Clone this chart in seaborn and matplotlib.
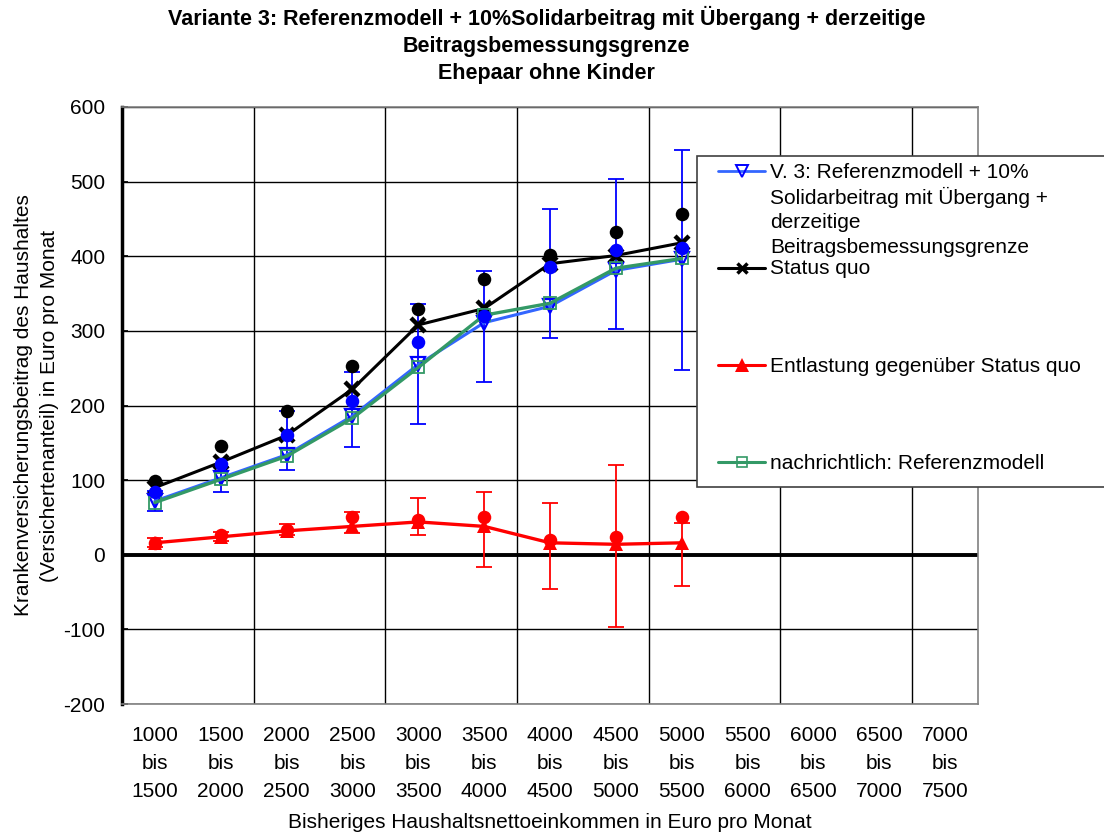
import numpy as np
import pandas as pd
import matplotlib
matplotlib.use("Agg")
import matplotlib.pyplot as plt
import seaborn as sns
from matplotlib.lines import Line2D
from matplotlib.patches import Rectangle

# Einkommensklassen (Kategorien der x-Achse)
klassen_von = [1000, 1500, 2000, 2500, 3000, 3500, 4000, 4500, 5000, 5500, 6000, 6500, 7000]
klassen_bis = [1500, 2000, 2500, 3000, 3500, 4000, 4500, 5000, 5500, 6000, 6500, 7000, 7500]

# Werte (nur fuer die ersten 9 Klassen vorhanden)
variante3 = [72, 103, 134, 186, 255, 311, 333, 381, 396]
status_quo = [90, 124, 160, 222, 308, 330, 390, 401, 418]
entlastung = [16, 24, 32, 38, 44, 38, 16, 14, 16]
referenzmodell = [70, 101, 132, 183, 251, 321, 337, 384, 397]

# Einzelpunkte ohne Linie
punkte_schwarz = [99, 146, 193, 253, 329, 369, 402, 432, 456]
punkte_blau = [84, 121, 160, 206, 285, 320, 386, 409, 411]
punkte_rot = [16, 26, 33, 51, 46, 50, 20, 24, 51]

# Fehlerbalken (untere / obere Grenze)
blau_unten = [58, 84, 113, 145, 175, 232, 291, 303, 247]
blau_oben = [86, 118, 192, 245, 336, 380, 463, 504, 542]
rot_unten = [10, 18, 27, 29, 27, -16, -46, -97, -42]
rot_oben = [22, 30, 41, 57, 76, 84, 69, 120, 42]

sns.set_theme(style="white")
plt.rcParams['font.family'] = ['Liberation Sans', 'DejaVu Sans']
plt.rcParams['text.color'] = 'black'
plt.rcParams['axes.labelcolor'] = 'black'
plt.rcParams['xtick.color'] = 'black'
plt.rcParams['ytick.color'] = 'black'
plt.rcParams['axes.unicode_minus'] = False

fig = plt.figure(figsize=(11.04, 8.35), dpi=100)
ax = fig.add_axes([122 / 1104, 1 - 704 / 835, (978 - 122) / 1104, (704 - 107) / 835])

n = len(variante3)
x = np.arange(n)

blau_lo = np.array(blau_unten)
blau_hi = np.array(blau_oben)
rot_lo = np.array(rot_unten)
rot_hi = np.array(rot_oben)

# Gitter
for yv in range(-200, 601, 100):
    ax.axhline(yv, color='black', lw=1.0, zorder=0)
for xv in np.arange(-0.5, len(klassen_von), 2):
    ax.axvline(xv, color='black', lw=1.0, zorder=0)
ax.axhline(0, color='black', lw=2.8, zorder=1)

# Fehlerbalken
ax.errorbar(x, (blau_lo + blau_hi) / 2, yerr=(blau_hi - blau_lo) / 2, fmt='none',
            ecolor='#0000FF', elinewidth=1.3, capsize=5.5, capthick=1.3, zorder=3)
ax.errorbar(x, (rot_lo + rot_hi) / 2, yerr=(rot_hi - rot_lo) / 2, fmt='none',
            ecolor='#FF0000', elinewidth=1.3, capsize=5.5, capthick=1.3, zorder=3)

# Linien
sns.lineplot(x=x, y=status_quo, ax=ax, color='black', lw=2.2, marker='x', ms=10,
             mew=3.2, mec='black', errorbar=None, zorder=4)
sns.lineplot(x=x, y=variante3, ax=ax, color='#3366FF', lw=2.2, marker='v', ms=10,
             mfc='none', mew=1.6, mec='#0000FF', errorbar=None, zorder=5)
sns.lineplot(x=x, y=referenzmodell, ax=ax, color='#339966', lw=2.4, marker='s', ms=8,
             mfc='none', mew=1.3, mec='#339966', errorbar=None, zorder=6)
sns.lineplot(x=x, y=entlastung, ax=ax, color='#FF0000', lw=2.4, marker='^', ms=10,
             mew=0, mec='#FF0000', errorbar=None, zorder=6)

# Punkte
sns.scatterplot(x=x, y=punkte_schwarz, ax=ax, color='black', s=95, linewidth=0, zorder=7)
sns.scatterplot(x=x, y=punkte_blau, ax=ax, color='#0000FF', s=95, linewidth=0, zorder=7)
sns.scatterplot(x=x, y=punkte_rot, ax=ax, color='#FF0000', s=95, linewidth=0, zorder=5)

ax.set_xlim(-0.5, len(klassen_von) - 0.5)
ax.set_ylim(-200, 600)
ax.set_yticks(range(-200, 601, 100))
ax.set_xticks(range(len(klassen_von)))
ax.set_xticklabels([f"{a}\nbis\n{b}" for a, b in zip(klassen_von, klassen_bis)],
                   linespacing=1.58)
ax.tick_params(axis='x', length=0, pad=16, labelsize=15)
ax.tick_params(axis='y', length=4, direction='in', pad=12, labelsize=15, left=True)

for side in ['top', 'right', 'bottom']:
    ax.spines[side].set_color('#808080')
    ax.spines[side].set_linewidth(1.2)
ax.spines['left'].set_color('black')
ax.spines['left'].set_linewidth(2.5)

ax.set_xlabel("Bisheriges Haushaltsnettoeinkommen in Euro pro Monat", fontsize=15, labelpad=9)
ax.set_ylabel("Krankenversicherungsbeitrag des Haushaltes\n(Versichertenanteil) in Euro pro Monat",
              fontsize=15, labelpad=3, linespacing=1.45)

fig.suptitle("Variante 3: Referenzmodell + 10%Solidarbeitrag mit Übergang + derzeitige\n"
             "Beitragsbemessungsgrenze\nEhepaar ohne Kinder",
             x=0.495, y=0.993, va='top', fontsize=15.5, fontweight='bold', linespacing=1.38)

# Legende (manuell wie im Original)
fig.patches.append(Rectangle((697 / 1104, 1 - 487 / 835), 0.4, (487 - 156) / 835,
                             transform=fig.transFigure, facecolor='white',
                             edgecolor='#404040', lw=1.2, zorder=10))
eintraege = [
    (["V. 3: Referenzmodell + 10%", "Solidarbeitrag mit Übergang +", "derzeitige",
      "Beitragsbemessungsgrenze"],
     dict(color='#3366FF', marker='v', mfc='none', mec='#0000FF', ms=8, mew=1.4, lw=2), 171),
    (["Status quo"], dict(color='black', marker='x', mec='black', ms=7, mew=2.5, lw=2.2), 268),
    (["Entlastung gegenüber Status quo"], dict(color='#FF0000', marker='^', mec='#FF0000', ms=10, mew=0, lw=2.2), 365),
    (["nachrichtlich: Referenzmodell"], dict(color='#339966', marker='s', mfc='none', mec='#339966', ms=7, mew=1.2, lw=2.2), 462),
]
for zeilen, stil, ypix in eintraege:
    yf = 1 - ypix / 835
    fig.add_artist(Line2D([718 / 1104, 765 / 1104], [yf, yf], transform=fig.transFigure,
                          zorder=11, color=stil['color'], lw=stil['lw']))
    fig.add_artist(Line2D([741.5 / 1104], [yf], transform=fig.transFigure, linestyle='none',
                          marker=stil['marker'], mfc=stil.get('mfc', stil['color']), mec=stil['mec'],
                          ms=stil['ms'], mew=stil['mew'], zorder=12))
    for i, zeile in enumerate(zeilen):
        fig.text(770 / 1104, 1 - (ypix - 1 + i * 25.3) / 835, zeile, fontsize=15,
                 va='center_baseline', ha='left', zorder=12)

fig.savefig("out.png", dpi=100)
